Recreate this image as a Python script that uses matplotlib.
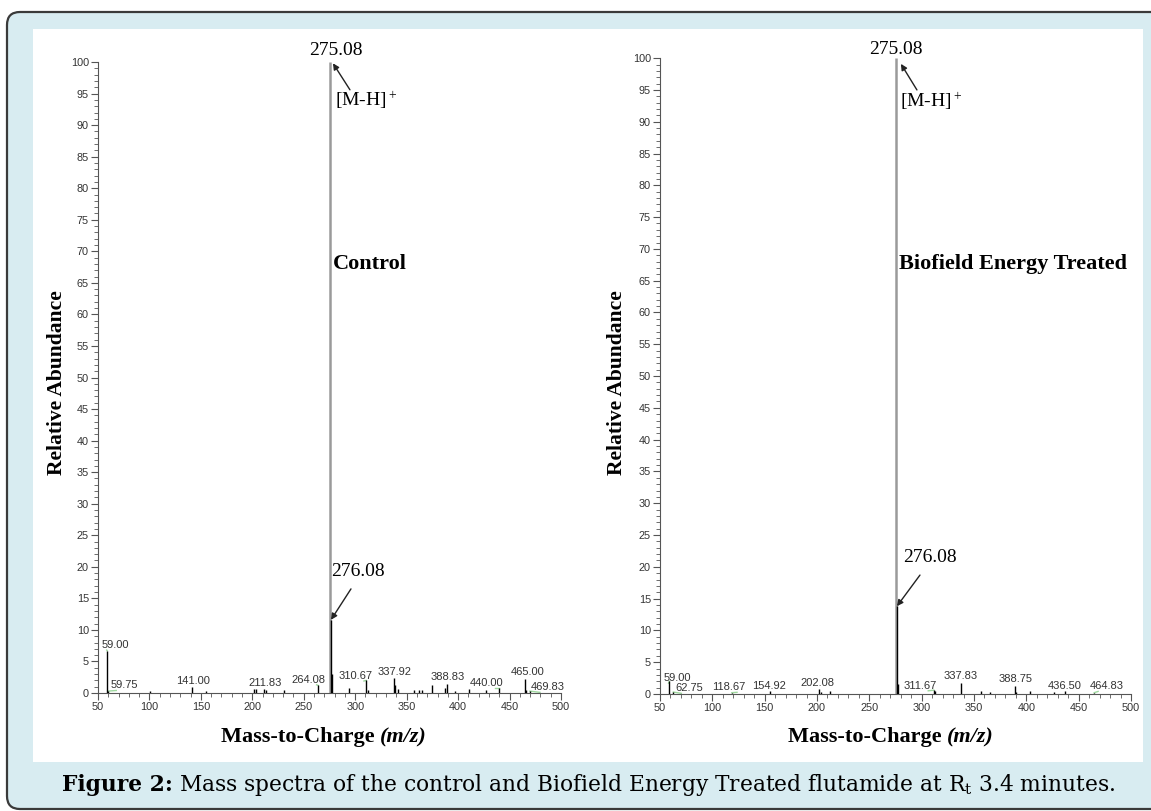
import matplotlib
matplotlib.use("Agg")
import matplotlib.pyplot as plt
from matplotlib.patches import FancyBboxPatch, Rectangle
from matplotlib.ticker import MultipleLocator

# ---- data ----
ctrl_mz = [59.00, 59.75, 101, 141.00, 155, 202, 204, 211.83, 213, 231, 264.08,
           275.08, 276.08, 277, 294, 310.67, 312, 337.92, 339, 342, 357, 362,
           365, 375, 387, 388.83, 397, 411, 427, 440.00, 465.00, 466, 469.83]
ctrl_int = [6.7, 0.3, 0.3, 0.9, 0.3, 0.6, 0.6, 0.7, 0.5, 0.5, 1.2,
            100, 11.6, 3.0, 0.8, 2.0, 0.5, 2.35, 1.2, 0.6, 0.5, 0.5,
            0.4, 1.2, 0.8, 1.4, 0.3, 0.6, 0.4, 0.8, 2.2, 0.5, 0.3]
ctrl_labels = ["59.00", "59.75", "141.00", "211.83", "264.08", "310.67",
               "337.92", "388.83", "440.00", "465.00", "469.83"]

trt_mz = [59.00, 62.75, 118.67, 154.92, 202.08, 204, 212, 275.08, 276.08, 277,
          311.67, 313, 337.83, 357, 365, 388.75, 390, 404, 426, 436.50, 464.83]
trt_int = [2.0, 0.3, 0.2, 0.5, 0.8, 0.3, 0.5, 100, 13.8, 1.5,
           0.6, 0.4, 1.7, 0.5, 0.3, 1.3, 0.3, 0.5, 0.3, 0.5, 0.2]
trt_labels = ["59.00", "62.75", "118.67", "154.92", "202.08", "311.67",
              "337.83", "388.75", "436.50", "464.83"]

# label placement (mz, abundance of text centre)
ctrl_lbl_pos = [(66.5, 7.6), (75.8, 1.2), (142, 1.9), (212.3, 1.6), (254.5, 2.1),
                (300.5, 2.7), (338.5, 3.3), (390, 2.5), (428, 1.6), (467.4, 3.3),
                (487.6, 0.9)]
trt_lbl_pos = [(66.2, 2.5), (78.4, 0.9), (115.6, 1.06), (154.5, 1.3), (200.7, 1.8),
               (298.3, 1.3), (337.6, 2.75), (389.5, 2.3), (437, 1.3), (476.6, 1.2)]

SERIF = "Liberation Serif"
SANS = "Liberation Sans"
TICK_C = "#555555"
TXT_C = "#333333"
GREEN = "#9fd89f"

fig = plt.figure(figsize=(11.51, 8.11), dpi=100)
fig.patch.set_facecolor("white")

# background frame: light blue rounded box + white panel
fig.add_artist(FancyBboxPatch((0.07, 0.02), 12.5, 7.97,
                              boxstyle="round,pad=0,rounding_size=0.13",
                              transform=fig.dpi_scale_trans, facecolor="#d8ecf1",
                              edgecolor="#3a3a3a", lw=1.6, zorder=-3))
fig.add_artist(Rectangle((0.33, 0.49), 11.10, 7.33, transform=fig.dpi_scale_trans,
                         facecolor="white", edgecolor="none", zorder=-2))


def spectrum(rect, mz, inten, labels, lbl_pos):
    a = fig.add_axes(rect)
    a.patch.set_alpha(0)
    a.set_xlim(50, 500)
    a.set_ylim(0, 100)
    for s in ("top", "right"):
        a.spines[s].set_visible(False)
    for s in ("left", "bottom"):
        a.spines[s].set_color(TICK_C)
        a.spines[s].set_linewidth(0.8)
    a.xaxis.set_major_locator(MultipleLocator(50))
    a.xaxis.set_minor_locator(MultipleLocator(10))
    a.yaxis.set_major_locator(MultipleLocator(5))
    a.yaxis.set_minor_locator(MultipleLocator(1))
    a.tick_params(which="major", length=5, width=0.8, color=TICK_C,
                  labelsize=7.8, labelcolor=TXT_C, pad=1.5)
    a.tick_params(which="minor", length=3, width=0.6, color=TICK_C)
    for lab in a.get_xticklabels() + a.get_yticklabels():
        lab.set_family(SANS)

    # base peak in grey, the rest black
    base = inten.index(max(inten))
    others = [i for i in range(len(mz)) if i != base]
    a.vlines(mz[base], 0, inten[base], color="#9a9a9a", lw=1.8, zorder=2)
    a.vlines([mz[i] for i in others], 0, [inten[i] for i in others],
             color="black", lw=1.0, zorder=3)

    for lbl, (lx, ly) in zip(labels, lbl_pos):
        pk = float(lbl)
        h = inten[mz.index(pk)]
        a.text(lx, ly, lbl, ha="center", va="center", fontsize=8,
               family=SANS, color=TXT_C, zorder=4)
        if abs(lx - pk) > 3:
            end = lx - 8 if lx > pk else lx + 8
            a.plot([pk, end], [h, ly - 0.8], color=GREEN, lw=1, zorder=1,
                   clip_on=False)
    return a


ax1 = spectrum([0.0851, 0.1455, 0.4023, 0.778], ctrl_mz, ctrl_int,
               ctrl_labels, ctrl_lbl_pos)
ax2 = spectrum([0.5734, 0.1443, 0.4092, 0.784], trt_mz, trt_int,
               trt_labels, trt_lbl_pos)

arrow = dict(arrowstyle="-|>", color="#222222", lw=1.0, mutation_scale=9,
             shrinkA=0, shrinkB=0)

# control annotations
ax1.text(281.3, 101.9, "275.08", ha="center", va="center", fontsize=14,
         family=SERIF, clip_on=False)
ax1.annotate("", xy=(278.4, 99.8), xytext=(294.9, 95.6), arrowprops=arrow,
             annotation_clip=False)
ax1.text(280.3, 94.0, r"[M-H]$\mathregular{^+}$", ha="left", va="center",
         fontsize=14, family=SERIF)
ax1.text(278.4, 68.0, "Control", ha="left", va="center", fontsize=16,
         family=SERIF, weight="bold")
ax1.text(302.7, 19.2, "276.08", ha="center", va="center", fontsize=14,
         family=SERIF)
ax1.annotate("", xy=(276.5, 11.6), xytext=(295.9, 16.5), arrowprops=arrow)

# treated annotations
ax2.text(275.5, 101.4, "275.08", ha="center", va="center", fontsize=14,
         family=SERIF, clip_on=False)
ax2.annotate("", xy=(280.2, 99.1), xytext=(295.5, 95.0), arrowprops=arrow,
             annotation_clip=False)
ax2.text(279.3, 93.2, r"[M-H]$\mathregular{^+}$", ha="left", va="center",
         fontsize=14, family=SERIF)
ax2.text(278.3, 67.6, "Biofield Energy Treated", ha="left", va="center",
         fontsize=16, family=SERIF, weight="bold")
ax2.text(308, 21.4, "276.08", ha="center", va="center", fontsize=14,
         family=SERIF)
ax2.annotate("", xy=(276.4, 13.8), xytext=(298.4, 18.7), arrowprops=arrow)

# axis titles
W, H = 1151, 811
for xpix in (57, 617):
    fig.text(xpix / W, 1 - 383 / H, "Relative Abundance", rotation=90,
             ha="center", va="center", fontsize=15.5, family=SERIF, weight="bold")
for split in (380, 947):
    fig.text(split / W, 1 - 737 / H, "Mass-to-Charge ", ha="right", va="center",
             fontsize=16, family=SERIF, weight="bold")
    fig.text(split / W, 1 - 737 / H, "(m/z)", ha="left", va="center",
             fontsize=16, family=SERIF, weight="bold", style="italic")

# caption
cap_y = 1 - 785 / H
t_bold = fig.text(62 / W, cap_y, "Figure 2:", ha="left", va="center",
                  fontsize=15.7, family="DejaVu Serif", weight="bold")
fig.canvas.draw()
bb = t_bold.get_window_extent()
fig.text((bb.x1 + 6) / W, cap_y,
         r"Mass spectra of the control and Biofield Energy Treated flutamide at "
         r"$\mathregular{R_t}$ 3.4 minutes.",
         ha="left", va="center", fontsize=15.7, family="DejaVu Serif")

fig.savefig("out.png", dpi=100)
